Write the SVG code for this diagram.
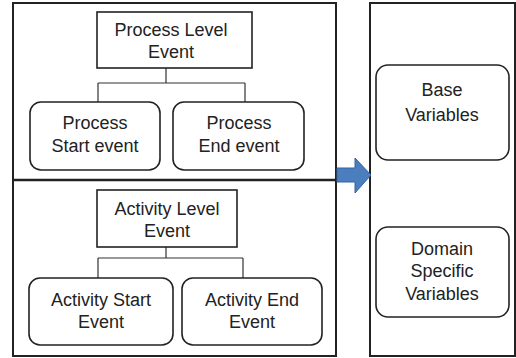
<svg xmlns="http://www.w3.org/2000/svg" width="516" height="358" viewBox="0 0 516 358">
<style>
.frame{fill:#fff;stroke:#222;stroke-width:2}
.box{fill:#fff;stroke:#222;stroke-width:1.6}
.conn{fill:none;stroke:#333;stroke-width:1.2}
text{font-family:"Liberation Sans",Arial,sans-serif;font-size:18px;fill:#222;text-anchor:middle}
</style>
<rect width="516" height="358" fill="#fff"/>
<g id="left-panel">
<rect class="frame" x="13" y="3" width="323" height="353"/>
<line x1="13" y1="180" x2="336" y2="180" stroke="#222" stroke-width="2.4"/>
</g>
<g id="right-panel">
<rect class="frame" x="370" y="3" width="145" height="353"/>
</g>
<g id="connectors">
<path class="conn" d="M166 68V83M98 83H245M98 83V102M245 83V102"/>
<path class="conn" d="M166 247V258M98 258H243M98 258V278M243 258V278"/>
<path d="M337 168H355V158L371 175L355 193V182H337Z" fill="#4a7ebf" stroke="#3465a4" stroke-width="1"/>
</g>
<g id="process-level">
<rect class="box" x="97" y="12" width="155" height="56"/>
<text x="171" y="36">Process Level</text>
<text x="171" y="58">Event</text>
</g>
<g id="process-start">
<rect class="box" x="30" y="102" width="130" height="68" rx="11"/>
<text x="95" y="129">Process</text>
<text x="95" y="152">Start event</text>
</g>
<g id="process-end">
<rect class="box" x="173" y="102" width="131" height="68" rx="11"/>
<text x="239" y="129">Process</text>
<text x="239" y="152">End event</text>
</g>
<g id="activity-level">
<rect class="box" x="97" y="190" width="140" height="57"/>
<text x="167" y="215">Activity Level</text>
<text x="167" y="237">Event</text>
</g>
<g id="activity-start">
<rect class="box" x="29" y="278" width="144" height="67" rx="11"/>
<text x="101" y="306">Activity Start</text>
<text x="101" y="328">Event</text>
</g>
<g id="activity-end">
<rect class="box" x="182" y="278" width="140" height="67" rx="11"/>
<text x="252" y="306">Activity End</text>
<text x="252" y="328">Event</text>
</g>
<g id="base-variables">
<rect class="box" x="376" y="65" width="133" height="95" rx="12"/>
<text x="442" y="96">Base</text>
<text x="442" y="121">Variables</text>
</g>
<g id="domain-variables">
<rect class="box" x="376" y="227" width="133" height="90" rx="12"/>
<text x="442" y="255">Domain</text>
<text x="442" y="277">Specific</text>
<text x="442" y="300">Variables</text>
</g>
</svg>
